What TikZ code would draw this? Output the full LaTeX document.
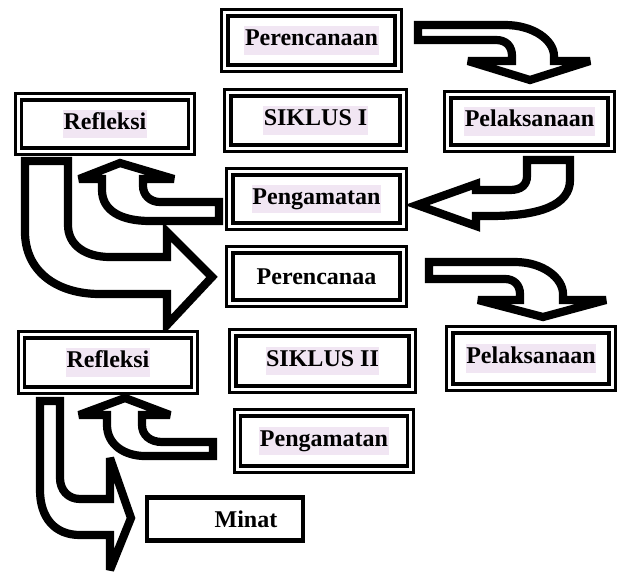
\documentclass[tikz,border=0pt]{standalone}
\usepackage{fontspec}
\setmainfont{Liberation Serif}
\definecolor{hlcol}{RGB}{241,230,243}
\newcommand\marktext[1]{{\setlength\fboxsep{0.5pt}\colorbox{hlcol}{\strut #1}}}
\tikzset{
  tribox/.style={draw, double, line width=2.8pt, double distance=2.5pt, minimum width=5.2cm, minimum height=1.66cm, inner sep=0pt, font=\fontsize{20.5pt}{23pt}\selectfont\bfseries},
  plainbox/.style={draw, line width=3.8pt, minimum width=4.67cm, minimum height=1.3cm, inner sep=0pt, font=\fontsize{20.5pt}{23pt}\selectfont\bfseries},
  bigarrow/.style={draw, fill=white, line width=7pt, line join=miter, miter limit=3}
}
\begin{document}
\begin{tikzpicture}[x=0.03cm, y=-0.03cm]
    \useasboundingbox (0,0) rectangle (618,580);

    % siklus I arrows
    \draw[bigarrow] (418,25) -- (505,25) .. controls (533,25) and (554,40) .. (554,56) -- (554,61) -- (590,61) -- (530,80) -- (468,61) -- (512,61) -- (512,56) .. controls (512,46) and (506,40) .. (496,40) -- (418,40) -- cycle;
    \draw[bigarrow] (527,160) -- (527,176) .. controls (527,185) and (521,190) .. (510,190) -- (476,190) -- (476,184) -- (417,205) -- (476,226) -- (476,216) -- (490,216) .. controls (540,216) and (570,205) .. (570,180) -- (570,160) -- cycle;
    \draw[bigarrow] (25,161) -- (25,232) .. controls (25,270) and (55,294) .. (100,294) -- (167,294) -- (167,325) -- (212,277) -- (167,232) -- (167,257) -- (110,257) .. controls (85,257) and (68,245) .. (68,225) -- (68,161) -- cycle;
    \draw[bigarrow] (219,202) -- (160,202) .. controls (150,202) and (143,195) .. (143,186) -- (143,179) -- (174,179) -- (120,163) -- (79,179) -- (102,179) -- (102,190) .. controls (102,210) and (120,221) .. (150,221) -- (219,221) -- cycle;

    % siklus II arrows
    \draw[bigarrow] (429,262) -- (515,262) .. controls (543,262) and (563,278) .. (563,294) -- (563,300) -- (606,300) -- (543,317) -- (478,300) -- (520,300) -- (520,294) .. controls (520,285) and (514,279) .. (505,279) -- (429,279) -- cycle;
    \draw[bigarrow] (40,401) -- (40,490) .. controls (40,518) and (55,535) .. (80,535) -- (110,535) -- (110,570) -- (131,518) -- (110,458) -- (110,499) -- (80,499) .. controls (68,499) and (60,490) .. (60,478) -- (60,401) -- cycle;
    \draw[bigarrow] (213,442) -- (162,442) .. controls (150,442) and (142,435) .. (142,425) -- (142,415) -- (170,415) -- (125,398) -- (79,415) -- (107,415) -- (107,425) .. controls (107,445) and (125,456) .. (145,456) -- (213,456) -- cycle;

    % siklus I
    \node[tribox](plan1) at (311.5, 40.5){\marktext{Perencanaan}};
    \node[tribox, minimum width=5.26cm](cycle1) at (315.5, 120.5){\marktext{SIKLUS I}};
    \node[tribox, minimum width=4.9cm, minimum height=1.6cm](act1) at (529.5, 121.5){\marktext{Pelaksanaan}};
    \node[tribox, minimum height=1.63cm](obs1) at (316.5, 199){\marktext{Pengamatan}};
    \node[tribox, minimum height=1.63cm](refl1) at (105, 124){\marktext{Refleksi}};

    % siklus II
    \node[tribox, minimum height=1.6cm](plan2) at (316.5, 276.5){Perencanaa};
    \node[tribox, minimum width=5.38cm, minimum height=1.69cm](cycle2) at (322.5, 361){\marktext{SIKLUS II}};
    \node[tribox, minimum width=4.87cm, minimum height=1.72cm](act2) at (531, 358.5){\marktext{Pelaksanaan}};
    \node[tribox, minimum height=1.69cm](obs2) at (324, 441){\marktext{Pengamatan}};
    \node[tribox](refl2) at (108, 362.5){\marktext{Refleksi}};

    \node[plainbox](minat) at (225, 519){\hspace*{1.26cm}Minat};
\end{tikzpicture}
\end{document}
